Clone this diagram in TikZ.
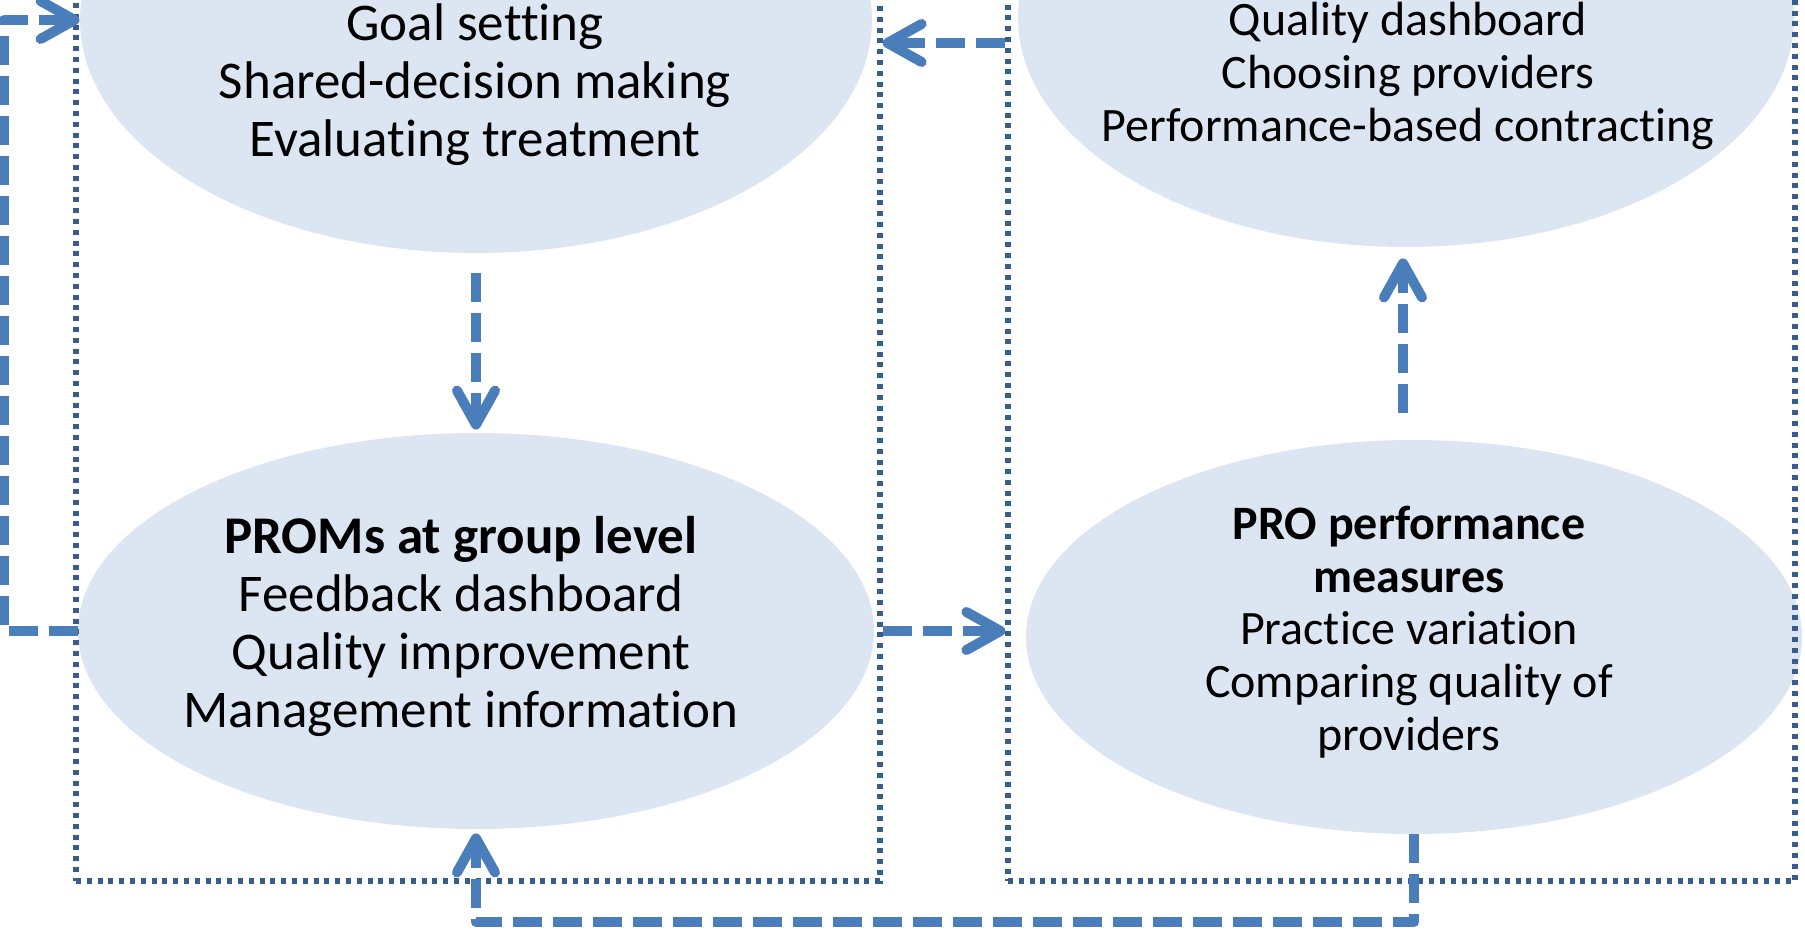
\documentclass[tikz,border=0pt]{standalone}
\usepackage{fontspec}
\setmainfont{Carlito}[Ligatures=CommonOff]
\usetikzlibrary{arrows.meta,shapes.geometric}
\definecolor{ellfill}{HTML}{DCE6F2}
\definecolor{boxline}{HTML}{385D8A}
\definecolor{arrowblue}{HTML}{4A7EBB}
\begin{document}
\begin{tikzpicture}[x=0.5pt,y=-0.5pt,
  bubble/.style={ellipse, fill=ellfill, draw=none, inner sep=0pt},
  groupbox/.style={rectangle, draw=boxline, line width=2.6pt, dash pattern=on 2.5pt off 2.9pt, inner sep=0pt},
  conn/.style={draw=arrowblue, line width=5pt, dash pattern=on 14.5pt off 5.5pt, line join=round,
    -{Straight Barb[length=17pt,width=19pt,round]}},
  bigtxt/.style={align=center, font=\fontsize{26.5}{29}\selectfont, inner sep=0pt},
  smalltxt/.style={align=center, font=\fontsize{24}{26.3}\selectfont, inner sep=0pt}]
\clip (0,0) rectangle (1805,930);
% ellipses
\node[bubble, minimum width=396pt, minimum height=233pt] (tl) at (476,20) {};
\node[bubble, minimum width=388pt, minimum height=229pt] (tr) at (1406,18) {};
\node[bubble, minimum width=398pt, minimum height=198pt] (bl) at (476,631) {};
\node[bubble, minimum width=388pt, minimum height=197pt] (br) at (1414,637) {};
% dotted group boxes
\node[groupbox, minimum width=402pt, minimum height=465.5pt] (lbox) at (478,415.5) {};
\node[groupbox, minimum width=393.5pt, minimum height=465.5pt] (rbox) at (1401.5,415.5) {};
% texts
\node[bigtxt] (tltext) at (475,85) {Goal setting\\Shared-decision making\\Evaluating treatment};
\node[smalltxt] (trtext) at (1408,76) {Quality dashboard\\Choosing providers\\Performance-based contracting};
\node[bigtxt] (bltext) at (461,626) {\textbf{PROMs at group level}\\Feedback dashboard\\Quality improvement\\Management information};
\node[smalltxt] (brtext) at (1409,632) {\textbf{PRO performance}\\\textbf{measures}\\Practice variation\\Comparing quality of\\providers};
% helper coordinates
\coordinate (lx) at (4,0);
\coordinate (h1) at (0,43);
\coordinate (by) at (0,922);
% connectors
\draw[conn] (bl.west) -- (bl.west -| lx) -- (tl.west -| lx) -- (tl.west);
\draw[conn] ([yshift=-10pt]tl.south) -- ([yshift=1.5pt]bl.north);
\draw[conn] (rbox.west |- h1) -- (lbox.east |- h1);
\draw[conn] (lbox.east |- bl.center) -- (rbox.west |- bl.center);
\draw[conn] ([xshift=-5.5pt,yshift=13.5pt]br.north) -- ([xshift=-1.5pt,yshift=-5.5pt]tr.south);
\draw[conn] (br.south) -- (br.south |- by) -- (bl.south |- by) -- ([yshift=-2pt]bl.south);
\end{tikzpicture}
\end{document}
